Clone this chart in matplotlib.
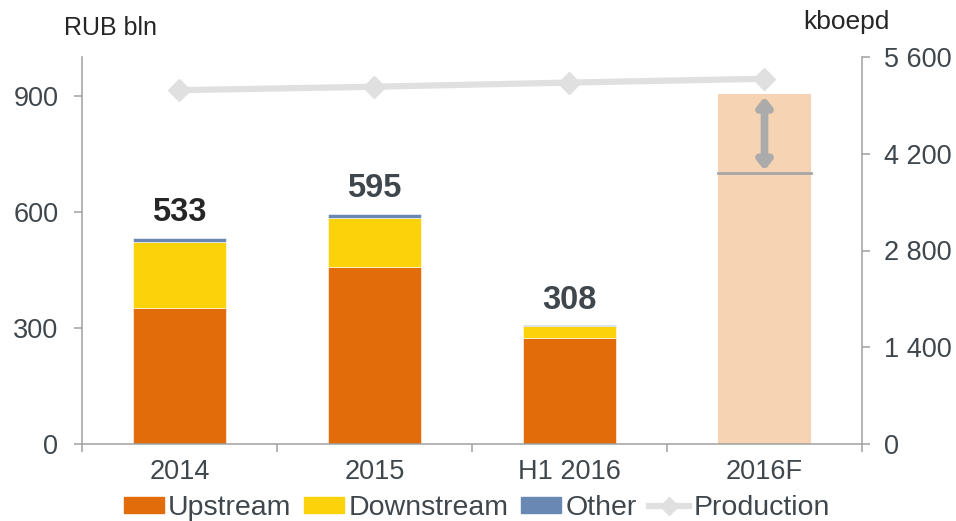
import numpy as np
import matplotlib
matplotlib.use("Agg")
import matplotlib.pyplot as plt
from matplotlib.lines import Line2D
from matplotlib.patches import Patch

plt.rcParams["font.family"] = ["Liberation Sans", "DejaVu Sans"]

# data
categories = ["2014", "2015", "H1 2016", "2016F"]
upstream = [351, 457, 274]
downstream = [171, 127, 31]
other = [11, 11, 3]
totals = [533, 595, 308]
forecast_low = 700
forecast_high = 905
production = [5120, 5170, 5230, 5285]

C_UP = "#E36C0A"
C_DOWN = "#FCD20A"
C_OTHER = "#6A88B4"
C_PROD = "#E0E0E0"
C_FC = "#F6D3B3"
C_GREY = "#A6A6A6"
C_TXT = "#3F474D"

fig = plt.figure(figsize=(9.56, 5.21), dpi=100)
ax = fig.add_axes([82 / 956, 1 - 444 / 521, 780 / 956, 387 / 521])
ax2 = ax.twinx()

x = np.arange(3)
w = 0.48
up = np.array(upstream)
dn = np.array(downstream)
ot = np.array(other)
ax.bar(x, up, w, color=C_UP, edgecolor="white", linewidth=0.4, zorder=2)
ax.bar(x, dn, w, bottom=up, color=C_DOWN, edgecolor="white", linewidth=0.4, zorder=2)
ax.bar(x, ot, w, bottom=up + dn, color=C_OTHER, edgecolor="white", linewidth=0.4, zorder=2)

# forecast bar with range arrow
ax.bar(3, forecast_high, w, color=C_FC, zorder=2)
ax.plot([3 - w / 2, 3 + w / 2], [forecast_low, forecast_low], color=C_GREY, lw=2, zorder=3)
ax.annotate("", xy=(3, forecast_high - 8), xytext=(3, forecast_low + 7),
            arrowprops=dict(arrowstyle="<|-|>,head_length=0.5,head_width=0.4",
                            lw=5.5, color="#ABABAB", shrinkA=0, shrinkB=0), zorder=4)

for i, t in enumerate(totals):
    col = "#262626" if i == 0 else C_TXT
    ax.text(i, t + 24, str(t), ha="center", va="bottom", fontsize=23.5,
            fontweight="bold", color=col)

ax.set_xlim(-0.5, 3.5)
ax.set_ylim(0, 1000)
ax.set_yticks([0, 300, 600, 900])
ax.set_xticks([-0.5, 0.5, 1.5, 2.5, 3.5])
ax.set_xticklabels([])
ax.set_xticks(np.arange(4), minor=True)
ax.set_xticklabels(categories, minor=True)

ax2.plot(np.arange(4), production, color=C_PROD, lw=4.5, marker="D",
         markersize=11, zorder=5)
ax2.set_ylim(0, 5600)
ax2.set_yticks([0, 1400, 2800, 4200, 5600])
ax2.set_yticklabels(["0", "1 400", "2 800", "4 200", "5 600"])

for a in (ax, ax2):
    a.spines["top"].set_visible(False)
    for s in ["left", "right", "bottom"]:
        a.spines[s].set_color("#A0A0A0")
        a.spines[s].set_linewidth(1.1)
ax.spines["right"].set_visible(False)
ax2.spines["left"].set_visible(False)
ax2.spines["bottom"].set_visible(False)

ax.tick_params(axis="y", length=6, width=1.1, color="#A0A0A0", labelsize=19.5,
               labelcolor=C_TXT, pad=11)
ax.tick_params(axis="x", which="major", length=6, width=1.1, color="#A0A0A0")
ax.tick_params(axis="x", which="minor", length=0, labelsize=19.5,
               labelcolor=C_TXT, pad=11)
ax2.tick_params(axis="y", length=6, width=1.1, color="#A0A0A0", labelsize=19.5,
                labelcolor=C_TXT, pad=10)

# production line on top of the bars
ax2.set_zorder(ax.get_zorder() + 1)
ax2.patch.set_visible(False)

fig.text(110 / 956, 1 - 28 / 521, "RUB bln", ha="center", va="center",
         fontsize=18, color="#262626")
fig.text(846 / 956, 1 - 22 / 521, "kboepd", ha="center", va="center",
         fontsize=19, color="#262626")

handles = [Patch(color=C_UP), Patch(color=C_DOWN), Patch(color=C_OTHER),
           Line2D([], [], color=C_PROD, lw=4.5, marker="D", markersize=9)]
fig.legend(handles, ["Upstream", "Downstream", "Other", "Production"],
           loc="center", bbox_to_anchor=(477 / 956, 1 - 508 / 521), ncol=4,
           frameon=False, fontsize=20.5, handlelength=1.4, handleheight=0.5,
           handletextpad=0.15, columnspacing=0.45, labelcolor=C_TXT,
           borderaxespad=0, borderpad=0)

fig.savefig("out.png", dpi=100)
